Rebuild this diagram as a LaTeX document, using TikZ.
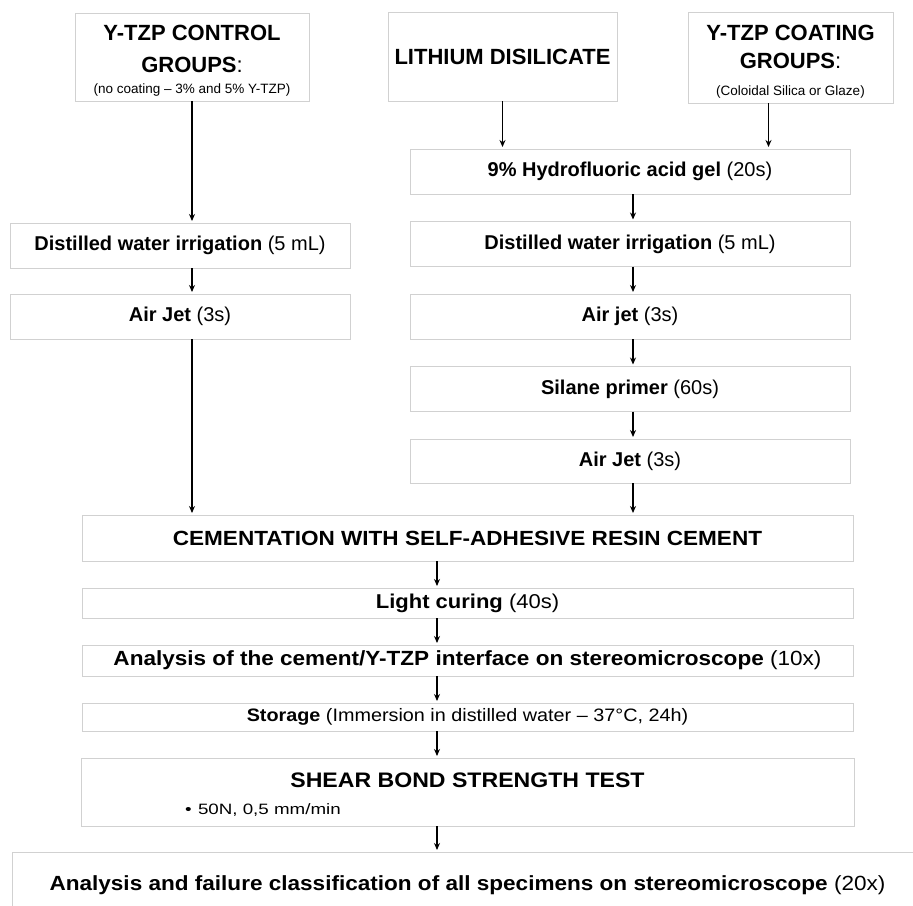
\documentclass[tikz,border=0pt]{standalone}
\usepackage{fontspec}
\setmainfont{Liberation Sans}
\usepackage{graphicx}
\usetikzlibrary{positioning,arrows.meta}

\newcommand{\stepfont}{\fontsize{20}{26}\selectfont}
\newcommand{\headfont}{\fontsize{22}{26}\selectfont}
\newcommand{\subfont}{\fontsize{13.5}{16}\selectfont}
\newcommand{\wide}[1]{\scalebox{1.1}[1]{#1}}

\begin{document}
\begin{tikzpicture}[x=1pt,y=-1pt,
    box/.style={draw=black!18, line width=1pt, fill=white, inner sep=0pt, outer sep=0pt, align=center, font=\stepfont},
    upstep/.style={box, minimum width=340pt, minimum height=45pt},
    rstep/.style={box, minimum width=440pt, minimum height=45pt},
    lowstep/.style={box, minimum width=771pt},
    flow/.style={-{Stealth[length=7pt,width=6pt]}, line width=1.5pt, shorten >=2pt},
    node distance=27.5pt]
  \useasboundingbox (0,0) rectangle (913,905);
  \clip (0,0) rectangle (913,905);

  % starting groups
  \node[box, minimum width=234pt, minimum height=88pt, font=\headfont] (ctrl) at (192,57)
    {\rule{0pt}{22pt}\textbf{Y-TZP CONTROL}\\[6pt]\textbf{GROUPS}:\\[-5pt]{\subfont (no coating – 3\% and 5\% Y-TZP)}};
  \node[box, minimum width=229pt, minimum height=89pt, font=\headfont] (lith) at (502.5,56.5)
    {\textbf{LITHIUM DISILICATE}};
  \node[box, minimum width=205pt, minimum height=91pt, font=\headfont] (coat) at (790.5,57.5)
    {\rule{0pt}{24pt}\textbf{Y-TZP COATING}\\[2pt]\textbf{GROUPS}:\\[1pt]{\subfont (Coloidal Silica or Glaze)}};

  % control groups
  \node[upstep] (dwL) at (180,245.5) {\textbf{Distilled water irrigation} (5 mL)};
  \node[upstep, below=26pt of dwL] (ajL) {\textbf{Air Jet} (3s)};

  % lithium disilicate and coating groups
  \node[rstep] (hf) at (630,171.5) {\textbf{9\% Hydrofluoric acid gel} (20s)};
  \node[rstep, below=of hf] (dwR) {\textbf{Distilled water irrigation} (5 mL)};
  \node[rstep, below=of dwR] (ajR) {\textbf{Air jet} (3s)};
  \node[rstep, below=of ajR] (sil) {\textbf{Silane primer} (60s)};
  \node[rstep, minimum height=44pt, below=of sil] (aj2) {\textbf{Air Jet} (3s)};

  % common steps
  \node[lowstep, minimum height=46pt] (cem) at (467.5,538)
    {\fontsize{20.5}{24}\selectfont\wide{\textbf{CEMENTATION WITH SELF-ADHESIVE RESIN CEMENT}}};
  \node[lowstep, minimum height=30pt, below=27pt of cem] (lc) {\wide{\textbf{Light curing} (40s)}};
  \node[lowstep, minimum height=31pt, below=27pt of lc] (scope10)
    {\fontsize{20.5}{24}\selectfont\wide{\textbf{Analysis of the cement/Y-TZP interface on stereomicroscope} (10x)}};
  \node[lowstep, minimum height=28pt, below=27pt of scope10] (store)
    {\fontsize{18}{22}\selectfont\wide{\textbf{Storage} (Immersion in distilled water – 37°C, 24h)}};
  \node[box, minimum width=773pt, minimum height=68pt, below=27pt of store] (shear) {};
  \node[anchor=base, font=\fontsize{21}{24}\selectfont] (shearhead) at ([yshift=-29pt]shear.north)
    {\wide{\textbf{SHEAR BOND STRENGTH TEST}}};
  \node[anchor=base west, inner sep=0pt, font=\fontsize{15}{18}\selectfont] (shearnote)
    at ([xshift=104pt,yshift=-56pt]shear.north west) {\scalebox{1.25}[1]{•\hspace{5pt}50N, 0,5 mm/min}};
  \node[box, minimum width=911pt, minimum height=66pt, below=26pt of shear] (classify)
    {\fontsize{20.5}{24}\selectfont\wide{\textbf{Analysis and failure classification of all specimens on stereomicroscope} (20x)}};

  % arrows
  \coordinate (rx) at (633,0);
  \coordinate (spine) at (437,0);
  \coordinate (coatfoot) at ([xshift=-22pt]coat.south);
  \draw[flow] (ctrl.south) -- (ctrl.south |- dwL.north);
  \draw[flow] (dwL.south -| ctrl.south) -- (ajL.north -| ctrl.south);
  \draw[flow] (ajL.south -| ctrl.south) -- (cem.north -| ctrl.south);
  \draw[flow] (lith.south) -- (lith.south |- hf.north);
  \draw[flow] (coatfoot) -- (coatfoot |- hf.north);
  \draw[flow] (hf.south -| rx) -- (dwR.north -| rx);
  \draw[flow] (dwR.south -| rx) -- (ajR.north -| rx);
  \draw[flow] (ajR.south -| rx) -- (sil.north -| rx);
  \draw[flow] (sil.south -| rx) -- (aj2.north -| rx);
  \draw[flow] (aj2.south -| rx) -- (cem.north -| rx);
  \draw[flow] (cem.south -| spine) -- (lc.north -| spine);
  \draw[flow] (lc.south -| spine) -- (scope10.north -| spine);
  \draw[flow] (scope10.south -| spine) -- (store.north -| spine);
  \draw[flow] (store.south -| spine) -- (shear.north -| spine);
  \draw[flow] (shear.south -| spine) -- (classify.north -| spine);
\end{tikzpicture}
\end{document}
